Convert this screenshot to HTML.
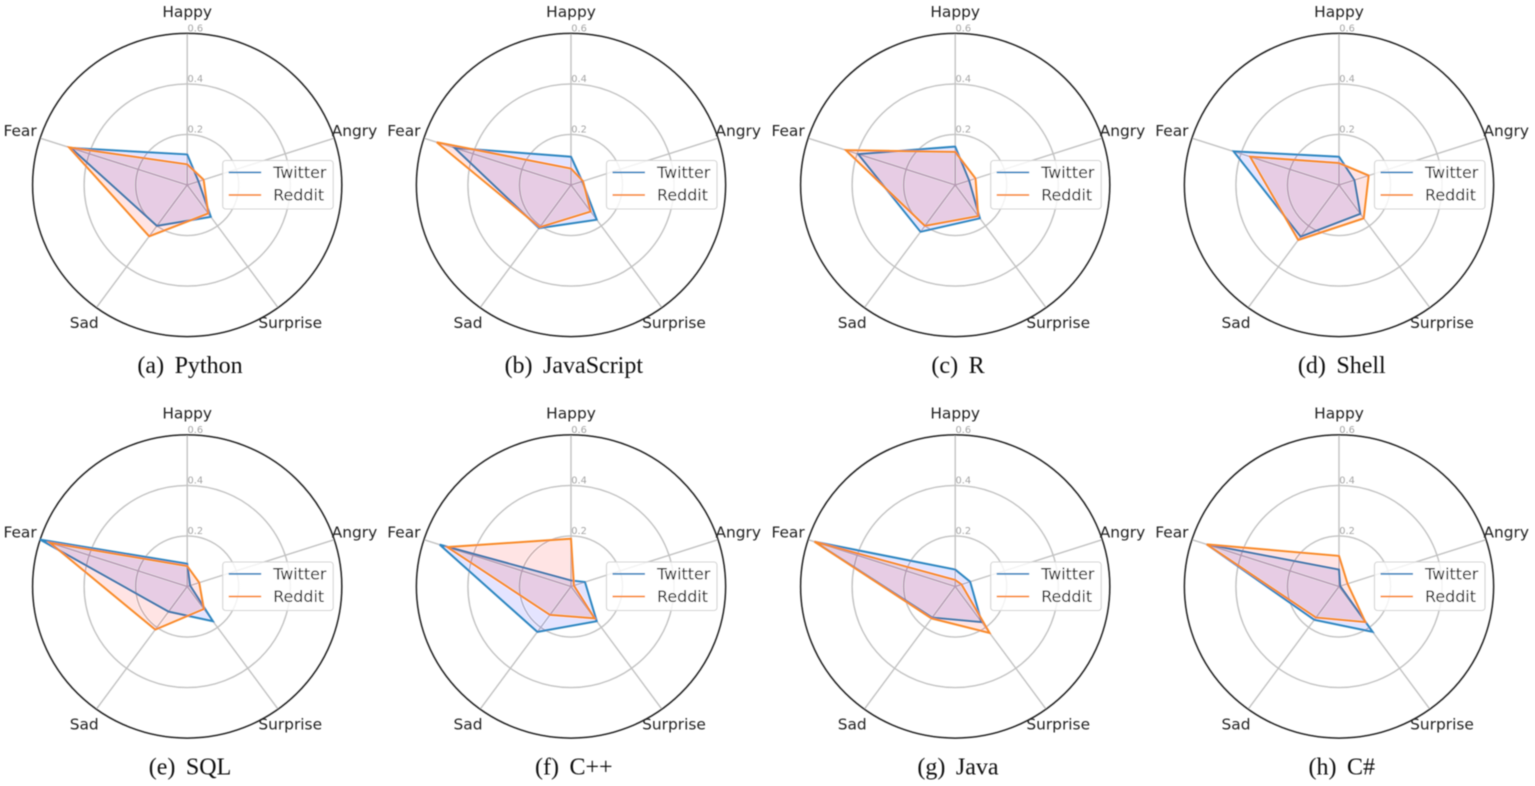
<!DOCTYPE html>
<html lang="en">
<head>
<meta charset="utf-8">
<title>Emotion radar charts by programming language</title>
<style>
  html, body { margin: 0; padding: 0; background: #fff; width: 1535px; height: 786px; overflow: hidden; }
  svg { display: block; }
  .axis-label { font-family: "DejaVu Sans", sans-serif; font-size: 15.4px; fill: #222; }
  .legend-label { font-family: "DejaVu Sans", sans-serif; font-size: 15.9px; fill: #222; }
  .tick-label { font-family: "DejaVu Sans", sans-serif; font-size: 9.8px; fill: #a4a4a4; }
  .caption { font-family: "Liberation Serif", serif; font-size: 24px; fill: #111; }
</style>
</head>
<body>
<svg id="figure" xmlns="http://www.w3.org/2000/svg" width="1535" height="786" viewBox="0 0 1535 786">
  <defs>
    <filter id="soften" x="0" y="0" width="1535" height="786" filterUnits="userSpaceOnUse" primitiveUnits="userSpaceOnUse">
      <feGaussianBlur stdDeviation="0.55"/>
    </filter>
  </defs>
  <rect x="0" y="0" width="1535" height="786" fill="#fff"/>
  <g id="root" filter="url(#soften)"></g>
</svg>
<script>
// ---- Data ----
const categories = ["Happy", "Angry", "Surprise", "Sad", "Fear"];
const tickValues = [0.2, 0.4, 0.6];
const tickLabels = ["0.2", "0.4", "0.6"];
const seriesNames = ["Twitter", "Reddit"];

const panelLetters = ["a", "b", "c", "d", "e", "f", "g", "h"];
const panelTitles = ["Python", "JavaScript", "R", "Shell", "SQL", "C++", "Java", "C#"];

const pythonTwitter = [0.121, 0.046, 0.156, 0.200, 0.475];
const pythonReddit = [0.082, 0.067, 0.139, 0.251, 0.482];
const javascriptTwitter = [0.112, 0.046, 0.170, 0.211, 0.475];
const javascriptReddit = [0.065, 0.049, 0.130, 0.207, 0.548];
const rTwitter = [0.152, 0.057, 0.163, 0.229, 0.396];
const rReddit = [0.131, 0.083, 0.152, 0.200, 0.446];
const shellTwitter = [0.112, 0.063, 0.141, 0.253, 0.430];
const shellReddit = [0.087, 0.121, 0.163, 0.269, 0.363];
const sqlTwitter = [0.090, 0.012, 0.170, 0.123, 0.600];
const sqlReddit = [0.081, 0.049, 0.110, 0.211, 0.560];
const cppTwitter = [0.024, 0.057, 0.170, 0.222, 0.536];
const cppReddit = [0.189, 0.012, 0.156, 0.139, 0.505];
const javaTwitter = [0.067, 0.061, 0.174, 0.152, 0.573];
const javaReddit = [0.026, 0.026, 0.227, 0.156, 0.575];
const csharpTwitter = [0.067, 0.005, 0.222, 0.163, 0.540];
const csharpReddit = [0.121, 0.035, 0.174, 0.152, 0.540];

const twitterSeries = [pythonTwitter, javascriptTwitter, rTwitter, shellTwitter, sqlTwitter, cppTwitter, javaTwitter, csharpTwitter];
const redditSeries = [pythonReddit, javascriptReddit, rReddit, shellReddit, sqlReddit, cppReddit, javaReddit, csharpReddit];

// ---- Layout ----
const columnCentres = [187.2, 571, 955.2, 1339];
const rowCentres = [185, 586.5];
const scaleX = 257.7;   // px per unit value, horizontal
const scaleY = 252.7;   // px per unit value, vertical
const axisMax = 0.6;
const root = document.getElementById('root');
const SVGNS = 'http://www.w3.org/2000/svg';

function mk(tag, props, parent) {
  const el = document.createElementNS(SVGNS, tag);
  for (const k in props) el.setAttribute(k, props[k]);
  parent.appendChild(el);
  return el;
}
function angleOf(i) { return Math.PI / 2 - i * 2 * Math.PI / categories.length; }
function px(cx, i, v) { return cx + scaleX * v * Math.cos(angleOf(i)); }
function py(cy, i, v) { return cy - scaleY * v * Math.sin(angleOf(i)); }
function polyPoints(cx, cy, values) {
  return values.map(function (v, i) { return px(cx, i, v).toFixed(2) + ',' + py(cy, i, v).toFixed(2); }).join(' ');
}

const labelOffsets = [
  { dx: 0, dy: -168, anchor: 'middle' },
  { dx: 144.5, dy: -49, anchor: 'start' },
  { dx: 103, dy: 143, anchor: 'middle' },
  { dx: -103, dy: 143, anchor: 'middle' },
  { dx: -150.5, dy: -49, anchor: 'end' }
];

panelTitles.forEach(function (title, p) {
  const cx = columnCentres[p % 4];
  const cy = rowCentres[Math.floor(p / 4)];
  const slug = title.toLowerCase().replace('++', 'pp').replace('#', '-sharp');

  const panel = mk('g', {}, root);
  
  

  // Grid rings
  tickValues.slice(0, -1).forEach(function (t) {
    const ring = mk('ellipse', { cx: cx, cy: cy, rx: scaleX * t, ry: scaleY * t, fill: 'none', stroke: '#c2c2c2', 'stroke-width': 1.4 }, panel);
    
    
  });

  // Spokes
  categories.forEach(function (c, i) {
    const spoke = mk('line', { x1: cx, y1: cy, x2: px(cx, i, axisMax), y2: py(cy, i, axisMax), stroke: '#c2c2c2', 'stroke-width': 1.4 }, panel);
    
    
  });

  // Frame
  const frame = mk('ellipse', { cx: cx, cy: cy, rx: scaleX * axisMax, ry: scaleY * axisMax, fill: 'none', stroke: '#222', 'stroke-width': 1.5 }, panel);
  
  

  // Radial tick labels
  tickValues.forEach(function (t, k) {
    const tick = mk('text', { x: cx + 0.3, y: cy - scaleY * t - 2, class: 'tick-label' }, panel);
    tick.textContent = tickLabels[k];
    
    
  });

  // Category labels
  categories.forEach(function (c, i) {
    const o = labelOffsets[i];
    const label = mk('text', { x: cx + o.dx, y: cy + o.dy, 'text-anchor': o.anchor, class: 'axis-label' }, panel);
    label.textContent = c;
    
    
  });

  // Series
  const twFill = mk('polygon', { points: polyPoints(cx, cy, twitterSeries[p]), fill: 'rgb(0,0,255)', 'fill-opacity': 0.105, stroke: 'none' }, panel);
  
  
  const twLine = mk('polygon', { points: polyPoints(cx, cy, twitterSeries[p]), fill: 'none', stroke: '#2f86c1', 'stroke-width': 2, 'stroke-linejoin': 'miter' }, panel);
  
  
  const rdFill = mk('polygon', { points: polyPoints(cx, cy, redditSeries[p]), fill: 'rgb(255,0,0)', 'fill-opacity': 0.105, stroke: 'none' }, panel);
  
  
  const rdLine = mk('polygon', { points: polyPoints(cx, cy, redditSeries[p]), fill: 'none', stroke: '#f98a2c', 'stroke-width': 2, 'stroke-linejoin': 'miter' }, panel);
  
  

  // Legend
  const legend = mk('g', {}, panel);
  
  
  const legendBox = mk('rect', { x: cx + 35.5, y: cy - 24.5, width: 110.5, height: 48.5, rx: 3, ry: 3, fill: '#fff', 'fill-opacity': 0.8, stroke: '#d4d4d4', 'stroke-width': 1.1 }, legend);
  
  
  seriesNames.forEach(function (name, s) {
    const y = cy - 12.6 + s * 22.6;
    const swatch = mk('line', { x1: cx + 41.5, x2: cx + 74, y1: y, y2: y, stroke: s === 0 ? '#2f86c1' : '#f98a2c', 'stroke-width': 1.8 }, legend);
    
    
    const text = mk('text', { x: cx + 86, y: y + 5.6, class: 'legend-label' }, legend);
    text.textContent = name;
    
    
  });

  // Caption
  const caption = mk('text', { x: cx + 2.8, y: cy + 188, 'text-anchor': 'middle', class: 'caption' }, panel);
  
  
  const capLetter = mk('tspan', {}, caption);
  capLetter.textContent = '(' + panelLetters[p] + ')';
  const capTitle = mk('tspan', { dx: 10.5 }, caption);
  capTitle.textContent = title;
});
</script>
</body>
</html>
